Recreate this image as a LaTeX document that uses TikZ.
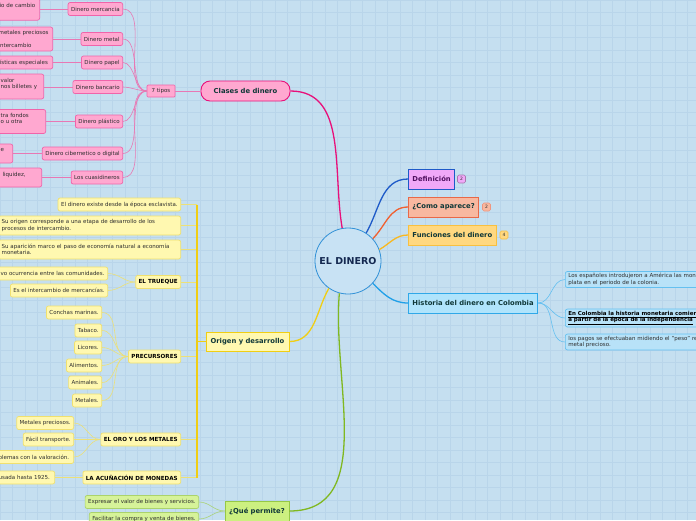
\documentclass[tikz,border=0pt]{standalone}
\usepackage{fontspec}
\setmainfont{DejaVu Sans}
\usetikzlibrary{positioning}

\definecolor{bgblue}{RGB}{197,223,240}
\definecolor{gridblue}{RGB}{185,213,234}
\definecolor{circfill}{RGB}{200,226,244}
\definecolor{circdraw}{RGB}{50,145,215}
\definecolor{navy}{RGB}{20,40,80}
\definecolor{maintext}{RGB}{16,56,56}
\definecolor{txtgray}{RGB}{45,45,45}
\definecolor{pinkfill}{RGB}{255,168,208}
\definecolor{pinkdraw}{RGB}{240,100,170}
\definecolor{pinkdeep}{RGB}{232,16,122}
\definecolor{pinkline}{RGB}{232,120,180}
\definecolor{yelfill}{RGB}{255,248,176}
\definecolor{yeldraw}{RGB}{240,224,110}
\definecolor{yelmain}{RGB}{240,206,20}
\definecolor{yelline}{RGB}{236,224,120}
\definecolor{grnfill}{RGB}{204,240,128}
\definecolor{grndraw}{RGB}{150,200,70}
\definecolor{grnmain}{RGB}{128,184,32}
\definecolor{grnline}{RGB}{170,210,120}
\definecolor{deffill}{RGB}{240,168,248}
\definecolor{defdraw}{RGB}{30,90,200}
\definecolor{comfill}{RGB}{248,184,160}
\definecolor{comdraw}{RGB}{232,104,72}
\definecolor{comline}{RGB}{240,96,48}
\definecolor{funfill}{RGB}{255,216,128}
\definecolor{fundraw}{RGB}{248,192,64}
\definecolor{funline}{RGB}{248,184,32}
\definecolor{hisfill}{RGB}{176,228,252}
\definecolor{hisdraw}{RGB}{48,168,232}
\definecolor{hisline}{RGB}{32,160,232}
\definecolor{bluefill}{RGB}{184,226,248}
\definecolor{bluedraw}{RGB}{100,192,240}

\begin{document}
\begin{tikzpicture}[
    x=1pt, y=-1pt,
    base/.style={font=\fontsize{5.5}{6.5}\selectfont, text=txtgray, inner xsep=3pt, inner ysep=2pt, minimum height=13pt, rounded corners=2pt, line width=0.7pt},
    pinkbox/.style={base, fill=pinkfill, draw=pinkdraw},
    pinkfrag/.style={pinkbox, anchor=east, align=left},
    yelbox/.style={base, fill=yelfill, draw=yeldraw},
    yelfrag/.style={yelbox, anchor=east, align=left},
    yelhead/.style={yelbox, font=\bfseries\fontsize{5.6}{6.5}\selectfont, text=black},
    grnbox/.style={base, fill=grnfill!80!white, draw=grndraw!80!white},
    bluebox/.style={base, fill=bluefill, draw=bluedraw, anchor=west, text width=220pt, align=left},
    mainbox/.style={font=\bfseries\fontsize{6.8}{8}\selectfont, text=maintext, minimum height=20pt, inner xsep=4pt, line width=0.9pt},
    badge/.style={font=\fontsize{4.5}{5}\selectfont, text=txtgray, minimum size=8pt, inner sep=1pt, rounded corners=1.5pt, line width=0.6pt},
    branch/.style={line width=1.3pt},
    twig/.style={line width=0.6pt},
]

% Background
\clip (0,0) rectangle (696,520);
\fill[bgblue] (0,0) rectangle (696,520);
\draw[gridblue, line width=0.5pt, step=12.5pt] (0,520) grid (696,0);

% Center
\node[circle, draw=circdraw, fill=circfill, line width=0.8pt, minimum size=66pt, font=\bfseries\fontsize{9.5}{11}\selectfont, text=navy] (dinero) at (348,261) {EL DINERO};

% Right side
\node[mainbox, fill=deffill, draw=defdraw, text={rgb,255:red,80;green,16;blue,96}, anchor=west] (defin) at (408,179) {Definición};
\node[badge, fill=deffill, draw=deffill!70!black, right=2pt of defin] (defin-n) {2};
\draw[branch, defdraw] (dinero.57) to[out=60, in=180] (defin.west);

\node[mainbox, fill=comfill, draw=comdraw, anchor=west] (como) at (408,207) {¿Como aparece?};
\node[badge, fill=comfill, draw=comdraw!70, right=3pt of como] (como-n) {2};
\draw[branch, comline] (dinero.42) to[out=45, in=180] (como.west);

\node[mainbox, fill=funfill, draw=fundraw, anchor=west] (func) at (408,235) {Funciones del dinero};
\node[badge, fill=funfill, draw=fundraw, right=3pt of func] (func-n) {4};
\draw[branch, funline] (dinero.20) to[out=30, in=180] (func.west);

\node[mainbox, fill=hisfill, draw=hisdraw, anchor=west] (hist) at (408,303) {Historia del dinero en Colombia};
\draw[branch, hisline] (dinero.-42) to[out=-45, in=180] (hist.west);

\node[bluebox] (hist1) at (565,279.5) {Los españoles introdujeron a América las monedas de oro y\\plata en el periodo de la colonia.};
\node[bluebox, font=\bfseries\fontsize{5.5}{6.5}\selectfont, text=black] (hist2) at (565,318) {\underline{En Colombia la historia monetaria comienza}\\\underline{a partir de la época de la independencia}};
\node[bluebox] (hist3) at (565,342) {los pagos se efectuaban midiendo el "peso" real del\\metal precioso.};
\draw[twig, bluedraw] (hist.east) to[out=0, in=180] (hist1.west);
\draw[twig, bluedraw] (hist.east) to[out=0, in=180] (hist2.west);
\draw[twig, bluedraw] (hist.east) to[out=0, in=180] (hist3.west);

% Clases de dinero
\node[mainbox, fill=pinkfill, draw=pinkdeep, rounded corners=9pt, minimum width=89pt] (clases) at (245.5,91) {Clases de dinero};
\draw[branch, pinkdeep] (dinero.100) to[out=100, in=0] (clases.east);

\node[pinkbox, minimum height=12pt, minimum width=28pt, inner xsep=2pt, rounded corners=1pt] (tipos) at (161,91) {7 tipos};
\draw[twig, pinkline] (clases.west) -- (tipos.east);

\node[pinkbox, anchor=east] (mercancia) at (123,9) {Dinero mercancia};
\node[pinkbox, anchor=east] (metal) at (123,39) {Dinero metal};
\node[pinkbox, anchor=east] (papel) at (123,62.5) {Dinero papel};
\node[pinkbox, anchor=east] (bancario) at (123,87) {Dinero bancario};
\node[pinkbox, anchor=east] (plastico) at (123,121.5) {Dinero plástico};
\node[pinkbox, anchor=east] (digital) at (123,153.5) {Dinero cibernetico o digital};
\node[pinkbox, anchor=east] (cuasi) at (123,177.5) {Los cuasidineros};

\draw[twig, pinkline] (tipos.west) to[out=180, in=0, looseness=0.8] (mercancia.east);
\draw[twig, pinkline] (tipos.west) to[out=180, in=0, looseness=0.8] (metal.east);
\draw[twig, pinkline] (tipos.west) to[out=180, in=0, looseness=0.8] (papel.east);
\draw[twig, pinkline] (tipos.west) to[out=180, in=0, looseness=0.8] (bancario.east);
\draw[twig, pinkline] (tipos.west) to[out=180, in=0, looseness=0.8] (plastico.east);
\draw[twig, pinkline] (tipos.west) to[out=180, in=0, looseness=0.8] (digital.east);
\draw[twig, pinkline] (tipos.west) to[out=180, in=0, looseness=0.8] (cuasi.east);

% descriptions cut by the left edge
\node[pinkfrag, anchor=south east, text width=37pt, minimum height=22pt] (mercancia-t) at (40,20.5) {io de cambio\\~};
\node[pinkfrag, text width=51pt, minimum height=24pt] (metal-t) at (53,39) {metales preciosos\\~\\intercambio};
\node[pinkfrag, text width=52pt] (papel-t) at (53,62.5) {\mbox{rísticas especiales}};
\node[pinkfrag, text width=40pt, minimum height=25pt] (bancario-t) at (44,86.5) {valor\\nos billetes y\\~};
\node[pinkfrag, text width=42pt, minimum height=24pt] (plastico-t) at (46,121.5) {tra fondos\\o u otra\\~};
\node[pinkfrag, text width=9pt, minimum height=19pt] (digital-t) at (13,153.5) {e\\~};
\node[pinkfrag, text width=38pt, minimum height=19pt] (cuasi-t) at (42,177.5) {\hspace{2pt}liquidez,\\~};

\draw[twig, pinkline] (mercancia.west) -- (mercancia.west -| mercancia-t.east);
\draw[twig, pinkline] (metal.west) -- (metal.west -| metal-t.east);
\draw[twig, pinkline] (papel.west) -- (papel.west -| papel-t.east);
\draw[twig, pinkline] (bancario.west) -- (bancario.west -| bancario-t.east);
\draw[twig, pinkline] (plastico.west) -- (plastico.west -| plastico-t.east);
\draw[twig, pinkline] (digital.west) -- (digital.west -| digital-t.east);
\draw[twig, pinkline] (cuasi.west) -- (cuasi.west -| cuasi-t.east);

% Origen y desarrollo
\node[mainbox, fill=yelfill, draw=yelmain, minimum width=83pt, minimum height=19pt] (origen) at (247.5,341.5) {Origen y desarrollo};
\draw[branch, yelmain] (dinero.235) to[out=240, in=0] (origen.east);
\coordinate (spine) at (197,341.5);
\coordinate (spinetop) at (197,204.5);
\coordinate (spinebot) at (197,477.5);

\node[yelbox, anchor=east] (org1) at (181,204.5) {El dinero existe desde la época esclavista.};
\node[yelbox, anchor=east, text width=176pt, align=left, minimum height=19pt] (org2) at (181,225.5) {Su origen corresponde a una etapa de desarrollo de los\\procesos de intercambio.};
\node[yelbox, anchor=east, text width=176pt, align=left, minimum height=19pt] (org3) at (181,249.5) {Su aparición marco el paso de economía natural a economía\\monetaria.};

\node[yelhead, anchor=east] (trueque) at (181,282) {EL TRUEQUE};
\node[yelfrag, text width=104pt] (trueque1) at (108,273.5) {vo ocurrencia entre las comunidades.};
\node[yelbox, anchor=east] (trueque2) at (108,290.5) {Es el intercambio de mercancías.};
\draw[twig, yelline] (trueque.west) to[out=180, in=0] (trueque1.east);
\draw[twig, yelline] (trueque.west) to[out=180, in=0] (trueque2.east);

\node[yelhead, anchor=east] (precur) at (181,356.5) {PRECURSORES};
\node[yelbox, anchor=east] (prec1) at (102,312.5) {Conchas marinas.};
\node[yelbox, anchor=east] (prec2) at (102,330.5) {Tabaco.};
\node[yelbox, anchor=east] (prec3) at (102,347.5) {Licores.};
\node[yelbox, anchor=east] (prec4) at (102,365.5) {Alimentos.};
\node[yelbox, anchor=east] (prec5) at (102,382.5) {Animales.};
\node[yelbox, anchor=east] (prec6) at (102,400.5) {Metales.};
\draw[twig, yelline] (precur.west) to[out=180, in=0] (prec1.east);
\draw[twig, yelline] (precur.west) to[out=180, in=0] (prec2.east);
\draw[twig, yelline] (precur.west) to[out=180, in=0] (prec3.east);
\draw[twig, yelline] (precur.west) to[out=180, in=0] (prec4.east);
\draw[twig, yelline] (precur.west) to[out=180, in=0] (prec5.east);
\draw[twig, yelline] (precur.west) to[out=180, in=0] (prec6.east);

\node[yelhead, anchor=east] (oro) at (181,439.5) {EL ORO Y LOS METALES};
\node[yelbox, anchor=east] (oro1) at (74,423) {Metales preciosos.};
\node[yelbox, anchor=east] (oro2) at (74,439.5) {Fácil transporte.};
\node[yelfrag, text width=72pt] (oro3) at (74,457) {blemas con la valoración.};
\draw[twig, yelline] (oro.west) to[out=180, in=0] (oro1.east);
\draw[twig, yelline] (oro.west) to[out=180, in=0] (oro2.east);
\draw[twig, yelline] (oro.west) to[out=180, in=0] (oro3.east);

\node[yelhead, anchor=east] (acun) at (181,477.5) {LA ACUÑACIÓN DE MONEDAS};
\node[yelfrag, text width=53pt] (acun1) at (55,477.5) {usada hasta 1925.};
\draw[twig, yelline] (acun.west) -- (acun1.east);

% spine of Origen
\draw[twig, yelline] (org1.east) -- (spinetop);
\draw[twig, yelline] (org2.east) -- (org2.east -| spine);
\draw[twig, yelline] (org3.east) -- (org3.east -| spine);
\draw[twig, yelline] (trueque.east) -- (trueque.east -| spine);
\draw[twig, yelline] (precur.east) -- (precur.east -| spine);
\draw[twig, yelline] (oro.east) -- (oro.east -| spine);
\draw[twig, yelline] (acun.east) -- (spinebot);
\draw[yelmain, line width=1.2pt] (spinetop) -- (spinebot);
\draw[yelmain, line width=1.2pt] (origen.west) -- (spine);

% Que permite
\node[mainbox, fill=grnfill, draw=grndraw, minimum width=64pt] (permite) at (257,511) {¿Qué permite?};
\draw[branch, grnmain] (dinero.255) to[out=265, in=0] (permite.east);
\node[grnbox, anchor=east] (perm1) at (199,502) {Expresar el valor de bienes y servicios.};
\node[grnbox, anchor=east] (perm2) at (199,519) {Facilitar la compra y venta de bienes.};
\draw[twig, grnline] (permite.west) to[out=180, in=0] (perm1.east);
\draw[twig, grnline] (permite.west) to[out=180, in=0] (perm2.east);

\end{tikzpicture}
\end{document}
